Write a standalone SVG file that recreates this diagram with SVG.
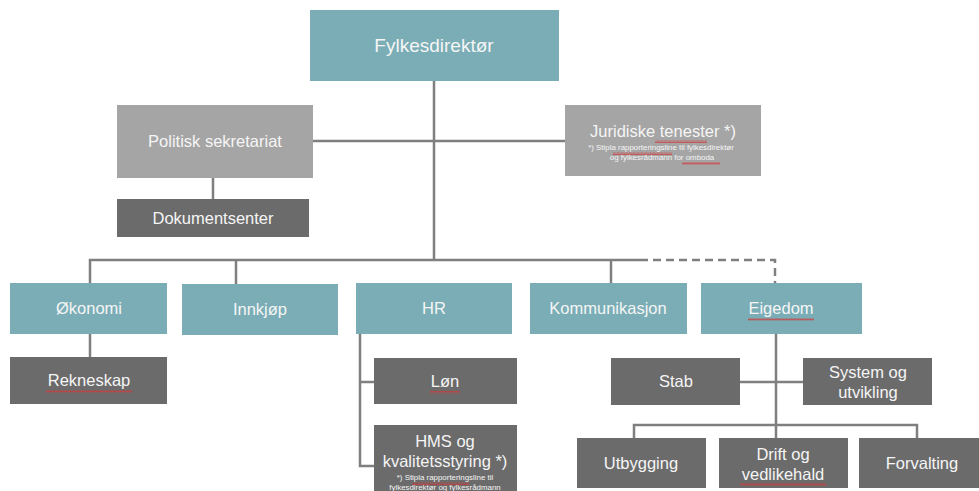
<svg xmlns="http://www.w3.org/2000/svg" width="979" height="491" viewBox="0 0 979 491">
<defs>
<style>
.teal{fill:#7aadb5}
.lg{fill:#a5a5a5}
.dg{fill:#6b6b6b}
text{font-family:"Liberation Sans",Arial,sans-serif;fill:#f5f5f5;text-anchor:middle}
.t{font-size:16.5px}
.s{font-size:7.9px}
.ln{stroke:#7f7f7f;stroke-width:2.5;fill:none}
.dash{stroke-dasharray:8 5}
.sq{fill:url(#zz)}
</style>
<pattern id="zz" width="4" height="3" patternUnits="userSpaceOnUse">
<path d="M0 2.5 L1 0.5 L2 2.5 L3 0.5 L4 2.5" stroke="#d23a3a" stroke-width="0.7" fill="none"/>
</pattern>
</defs>
<rect width="979" height="491" fill="#ffffff"/>
<g id="connectors">
<path class="ln" d="M434 81 V260"/>
<path class="ln" d="M313 141 H565"/>
<path class="ln" d="M213 178 V199"/>
<path class="ln" d="M90 283 V260 H640"/>
<path class="ln" d="M236 284 V260"/>
<path class="ln" d="M611 283 V260"/>
<path class="ln dash" d="M640 260 H775 V283"/>
<path class="ln" d="M90 334 V357"/>
<path class="ln" d="M360 334 V466 H374"/>
<path class="ln" d="M360 382 H374"/>
<path class="ln" d="M776 334 V425"/>
<path class="ln" d="M740 382 H803"/>
<path class="ln" d="M634 438 V425 H917 V438"/>
<path class="ln" d="M776 425 V438"/>
</g>
<g id="fylkesdirektor"><rect class="teal" x="310" y="10" width="249" height="71"/><text x="434" y="52" style="font-size:19px">Fylkesdirektør</text></g>
<g id="politisk"><rect class="lg" x="117" y="105" width="196" height="73"/><text class="t" x="215" y="147">Politisk sekretariat</text></g>
<g id="dokumentsenter"><rect class="dg" x="117" y="199" width="192" height="38"/><text class="t" x="213" y="224">Dokumentsenter</text></g>
<g id="juridiske"><rect class="lg" x="565" y="105" width="196" height="71"/>
<text class="t" x="663" y="137">Juridiske tenester *)</text>
<text class="s" x="661" y="150">*) Stipla rapporteringsline til fylkesdirektør</text>
<text class="s" x="662" y="160">og fylkesrådmann for omboda</text>
<rect class="sq" x="655" y="140" width="52" height="3"/>
<rect class="sq" x="613" y="152" width="59" height="3"/>
<rect class="sq" x="682" y="162" width="38" height="3"/>
</g>
<g id="okonomi"><rect class="teal" x="10" y="283" width="157" height="51"/><text class="t" x="89" y="314">Økonomi</text></g>
<g id="innkjop"><rect class="teal" x="182" y="284" width="156" height="51"/><text class="t" x="260" y="315">Innkjøp</text></g>
<g id="hr"><rect class="teal" x="356" y="283" width="156" height="51"/><text class="t" x="434" y="314">HR</text></g>
<g id="kommunikasjon"><rect class="teal" x="530" y="283" width="157" height="51"/><text class="t" x="608" y="314">Kommunikasjon</text></g>
<g id="eigedom"><rect class="teal" x="701" y="283" width="161" height="51"/><text class="t" x="781" y="314">Eigedom</text><rect class="sq" x="748" y="318" width="66" height="3"/></g>
<g id="rekneskap"><rect class="dg" x="10" y="357" width="157" height="47"/><text class="t" x="89" y="386">Rekneskap</text><rect class="sq" x="46" y="390" width="86" height="3"/></g>
<g id="lon"><rect class="dg" x="374" y="358" width="143" height="46"/><text class="t" x="445" y="387">Løn</text><rect class="sq" x="430" y="391" width="30" height="3"/></g>
<g id="hms"><rect class="dg" x="374" y="425" width="143" height="70"/>
<text class="t" x="445" y="447">HMS og</text>
<text class="t" x="445" y="467">kvalitetsstyring *)</text>
<text class="s" x="445" y="480">*) Stipla rapporteringsline til</text>
<text class="s" x="445" y="490">fylkesdirektør og fylkesrådmann</text>
<rect class="sq" x="412" y="482" width="57" height="3"/>
</g>
<g id="stab"><rect class="dg" x="611" y="358" width="129" height="47"/><text class="t" x="676" y="387">Stab</text></g>
<g id="system"><rect class="dg" x="803" y="358" width="129" height="47"/><text class="t" x="868" y="378">System og</text><text class="t" x="868" y="398">utvikling</text></g>
<g id="utbygging"><rect class="dg" x="577" y="438" width="129" height="50"/><text class="t" x="641" y="469">Utbygging</text></g>
<g id="drift"><rect class="dg" x="719" y="438" width="129" height="50"/><text class="t" x="783" y="460">Drift og</text><text class="t" x="783" y="480">vedlikehald</text><rect class="sq" x="740" y="483" width="86" height="3"/></g>
<g id="forvalting"><rect class="dg" x="859" y="438" width="120" height="50"/><text class="t" x="922" y="469">Forvalting</text></g>
</svg>
